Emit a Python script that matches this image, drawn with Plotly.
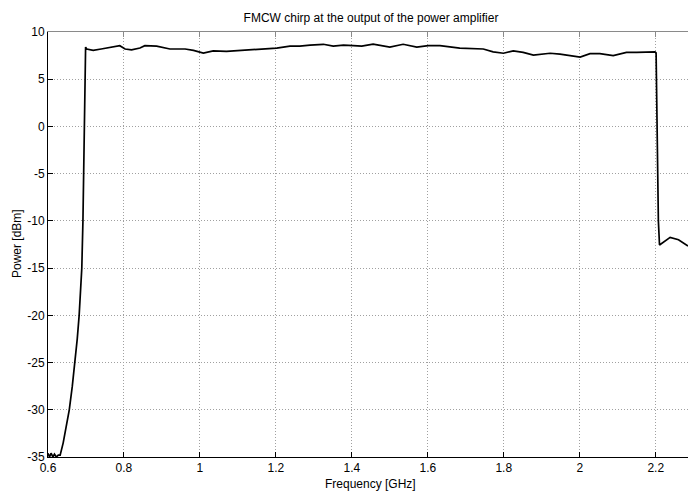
import plotly.graph_objects as go

# Frequency [GHz] and power [dBm]
freq_ghz = [0.600, 0.604, 0.608, 0.613, 0.617, 0.622, 0.627, 0.632, 0.640, 0.648,
            0.656, 0.664, 0.671, 0.677, 0.682, 0.686, 0.689, 0.692, 0.694, 0.696,
            0.697, 0.699, 0.702, 0.719, 0.740, 0.763, 0.789, 0.803, 0.820, 0.842,
            0.855, 0.886, 0.921, 0.961, 0.983, 1.009, 1.035, 1.070, 1.105, 1.141,
            1.176, 1.202, 1.237, 1.263, 1.290, 1.325, 1.351, 1.378, 1.404, 1.426,
            1.456, 1.500, 1.535, 1.571, 1.601, 1.632, 1.684, 1.720, 1.746, 1.772,
            1.799, 1.825, 1.851, 1.878, 1.922, 1.948, 1.974, 2.001, 2.027, 2.053,
            2.088, 2.123, 2.150, 2.176, 2.198, 2.201, 2.204, 2.207, 2.210, 2.238,
            2.260, 2.285]
power_dbm = [-34.6, -35.0, -34.6, -35.0, -34.7, -35.0, -34.8, -34.8, -33.5, -31.8,
             -30.0, -27.5, -25.0, -22.5, -20.0, -17.5, -15.0, -10.0, -3.0, 3.0,
             8.0, 8.4, 8.2, 8.05, 8.2, 8.4, 8.55, 8.2, 8.1, 8.3,
             8.55, 8.5, 8.2, 8.2, 8.05, 7.77, 8.0, 7.95, 8.05, 8.1,
             8.25, 8.3, 8.5, 8.5, 8.6, 8.7, 8.5, 8.6, 8.55, 8.5,
             8.72, 8.4, 8.7, 8.4, 8.55, 8.55, 8.3, 8.25, 8.2, 7.9,
             7.75, 8.0, 7.85, 7.55, 7.75, 7.65, 7.5, 7.35, 7.7, 7.7,
             7.5, 7.85, 7.85, 7.85, 7.9, 7.8, -2.0, -10.0, -12.55, -11.75,
             -12.0, -12.65]

x_ticks = [0.6, 0.8, 1.0, 1.2, 1.4, 1.6, 1.8, 2.0, 2.2]
x_tick_labels = ["0.6", "0.8", "1", "1.2", "1.4", "1.6", "1.8", "2", "2.2"]
y_ticks = [10, 5, 0, -5, -10, -15, -20, -25, -30, -35]
y_tick_labels = ["10", "5", "0", "-5", "-10", "-15", "-20", "-25", "-30", "-35"]

title_text = "FMCW chirp at the output of the power amplifier"
x_label = "Frequency [GHz]"
y_label = "Power [dBm]"

FONT = "Liberation Sans, Arial, sans-serif"
FS = 12
X_RANGE = [0.6, 2.285]
Y_RANGE = [-35, 10]

W, H = 688, 492
ML, MR, MT, MB = 48, 0, 32, 35
PW, PH = W - ML - MR, H - MT - MB

fig = go.Figure()
fig.add_trace(go.Scatter(x=freq_ghz, y=power_dbm, mode="lines",
                         line=dict(color="black", width=1.7),
                         showlegend=False, hoverinfo="skip"))
# invisible trace to activate the top (mirror) axis
fig.add_trace(go.Scatter(x=[X_RANGE[0]], y=[Y_RANGE[0]], xaxis="x2", mode="markers",
                         marker=dict(opacity=0), showlegend=False, hoverinfo="skip"))

grid_dash = "1px,2px"
fig.update_layout(
    width=W, height=H,
    margin=dict(l=ML, r=MR, t=MT, b=MB, autoexpand=False),
    paper_bgcolor="white", plot_bgcolor="white",
    font=dict(family=FONT, size=FS, color="black"),
    title=dict(text=title_text, x=(371 - ML) / PW, xref="paper", xanchor="center",
               y=1 - 18 / H, yref="container", yanchor="middle",
               font=dict(family=FONT, size=FS, color="black")),
    xaxis=dict(range=X_RANGE, tickvals=x_ticks, ticktext=x_tick_labels,
               showgrid=True, gridcolor="#a0a0a0", griddash=grid_dash, gridwidth=1,
               showline=True, linecolor="black", linewidth=1,
               ticks="inside", ticklen=5, tickcolor="black",
               zeroline=False, tickfont=dict(size=FS)),
    xaxis2=dict(range=X_RANGE, tickvals=x_ticks, overlaying="x", side="top",
                showticklabels=False, showgrid=False, zeroline=False,
                showline=True, linecolor="#8a8a8a", linewidth=1,
                ticks="inside", ticklen=5, tickcolor="#8a8a8a"),
    yaxis=dict(range=Y_RANGE, tickvals=y_ticks, ticktext=y_tick_labels,
               showgrid=True, gridcolor="#a0a0a0", griddash=grid_dash, gridwidth=1,
               showline=True, linecolor="black", linewidth=1,
               ticks="inside", ticklen=5, tickcolor="black",
               zeroline=False, tickfont=dict(size=FS)),
    annotations=[
        dict(text=x_label, x=(370 - ML) / PW, xref="paper", y=-(484 - (MT + PH)) / PH,
             yref="paper", xanchor="center", yanchor="middle", showarrow=False,
             font=dict(family=FONT, size=FS)),
        dict(text=y_label, x=(17 - ML) / PW, xref="paper", y=(H - MB - 244) / PH,
             yref="paper", xanchor="center", yanchor="middle", showarrow=False,
             textangle=-90, font=dict(family=FONT, size=FS)),
    ],
)

fig.write_html("out.html", config={"displayModeBar": False},
               post_script="document.body.style.margin='0';")
